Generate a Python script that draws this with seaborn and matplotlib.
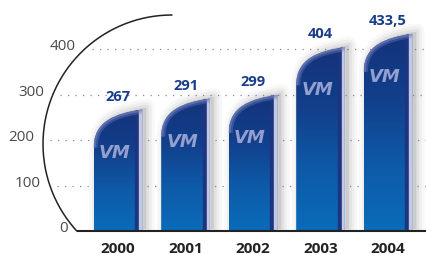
import numpy as np
import pandas as pd
import matplotlib.pyplot as plt
import seaborn as sns
from matplotlib.path import Path
from matplotlib.patches import PathPatch, Rectangle
from matplotlib.colors import LinearSegmentedColormap
from matplotlib.transforms import Affine2D

# data
years = ['2000', '2001', '2002', '2003', '2004']
values = [267, 291, 299, 404, 433.5]
value_labels = ['267', '291', '299', '404', '433,5']
ticks = [0, 100, 200, 300, 400]

sns.set_style('white')
plt.rcParams['font.family'] = ['Open Sans', 'DejaVu Sans']

W, H = 427, 255
fig = plt.figure(figsize=(W / 100, H / 100), dpi=100)
ax = fig.add_axes([0, 23 / H, 1, 232 / H])

df = pd.DataFrame({'year': years, 'value': values})
sns.barplot(data=df, x='year', y='value', color='#0d4a95', width=0.72,
            errorbar=None, ax=ax)

XLIM = (-1.748, 4.578)
YLIM = (0, 510)
ax.set_xlim(*XLIM)
ax.set_ylim(*YLIM)
ax.set_xlabel('')
ax.set_ylabel('')
for s in ax.spines.values():
    s.set_visible(False)
ax.set_yticks([])
ax.tick_params(axis='x', length=0, pad=7, labelsize=11, labelcolor='#222222')
for t in ax.get_xticklabels():
    t.set_fontweight('bold')


def to_data(xp, yp):
    # image pixel (from top-left) -> data coords
    pts = np.column_stack([np.atleast_1d(xp), H - np.atleast_1d(yp)])
    return ax.transData.inverted().transform(pts)


def img_y(v):
    return H - ax.transData.transform((0, v))[1]


px = (XLIM[1] - XLIM[0]) / W
py = (YLIM[1] - YLIM[0]) / 232

# arc on the left
cx, cy, r = 172, 145, 129
theta = np.radians(np.linspace(90, 222.4, 200))
arc = to_data(cx + r * np.cos(theta), cy - r * np.sin(theta))
ax.plot(arc[:, 0], arc[:, 1], color='#222222', lw=1.1, clip_on=False, zorder=5)


def arc_x(yp):
    return cx - np.sqrt(r ** 2 - (yp - cy) ** 2)


# grid lines + tick labels following the arc
for t in ticks:
    yp = img_y(t)
    xa = arc_x(yp)
    if t > 0:
        ax.hlines(t, to_data(xa + 7, yp)[0, 0], XLIM[1], colors='#8a8a8a',
                  linestyles=(0, (1, 5)), lw=0.9, zorder=1)
    ax.text(to_data(xa - 9, yp)[0, 0], t, str(t), ha='right', va='baseline',
            fontsize=11, color='#4a4a4a', zorder=5)

# baseline
ax.hlines(0, to_data(arc_x(232), 232)[0, 0], XLIM[1], colors='#222222',
          lw=1.5, zorder=6, clip_on=False)

cmap = LinearSegmentedColormap.from_list(
    'bar', ['#0a6cb9', '#0e5aa8', '#123f8b', '#14337a'])
grad = np.linspace(0, 1, 256).reshape(-1, 1)
drop = 38 * py

for p in ax.patches:
    x0, w, h = p.get_x(), p.get_width(), p.get_height()
    x1 = x0 + w
    p.set_alpha(0)
    c1 = (x0 + 0.45 * w, h - 0.1 * drop)
    c2 = (x0, h - 0.3 * drop)
    verts = [(x0, 0), (x1, 0), (x1, h), c1, c2, (x0, h - drop), (x0, 0)]
    codes = [Path.MOVETO, Path.LINETO, Path.LINETO, Path.CURVE4, Path.CURVE4,
             Path.CURVE4, Path.CLOSEPOLY]
    path = Path(verts, codes)

    # soft shadow
    for lw, a in [(12, 0.05), (8, 0.07), (4, 0.10)]:
        ax.add_patch(PathPatch(path, fc='#777777', ec='#777777', lw=lw,
                               alpha=a, joinstyle='round', zorder=2,
                               transform=ax.transData + Affine2D().translate(4, 2)))

    body = PathPatch(path, fc='none', ec='none', transform=ax.transData)
    ax.add_patch(body)
    im = ax.imshow(grad, extent=[x0, x1, 0, h], origin='lower', aspect='auto',
                   cmap=cmap, zorder=3)
    im.set_clip_path(body)

    for xs, ws, col in [(x1 - 7 * px, 4 * px, '#1d3480'),
                        (x1 - 3 * px, 3 * px, '#c3c8e4')]:
        rect = Rectangle((xs, 0), ws, h, color=col, zorder=4)
        ax.add_patch(rect)
        rect.set_clip_path(body)

    top = Path([(x1, h), c1, c2, (x0, h - drop)],
               [Path.MOVETO, Path.CURVE4, Path.CURVE4, Path.CURVE4])
    for lw, a in [(6, 0.35), (3, 0.55)]:
        bevel = PathPatch(top, fc='none', ec='#7985c2', lw=lw, alpha=a,
                          zorder=4)
        ax.add_patch(bevel)
        bevel.set_clip_path(body)

    ax.text(x0 + w / 2 - 3 * px, h - 42 * py, 'VM', ha='center', va='center',
            fontsize=13, fontweight='bold', fontstyle='italic',
            color='#929fcf', family='DejaVu Sans', zorder=5)

ax.bar_label(ax.containers[0], labels=value_labels, padding=5, fontsize=10.5,
             fontweight='bold', color='#1a3d8a')

ax.set_xlim(*XLIM)
ax.set_ylim(*YLIM)
fig.savefig('out.png', dpi=100)
